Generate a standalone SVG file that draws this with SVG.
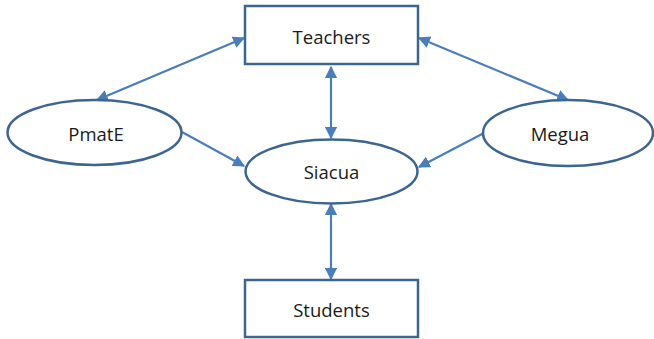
<svg xmlns="http://www.w3.org/2000/svg" width="654" height="339" viewBox="0 0 654 339">
<style>
.node{fill:#fff;stroke:#3c6590;stroke-width:2.5}
.lbl{font-family:"Open Sans","Liberation Sans",sans-serif;font-size:18.5px;fill:#1a1a1a;text-anchor:middle;dominant-baseline:central}
.con{stroke:#4a7ebb;stroke-width:2.2;fill:none}
</style>
<defs>
<marker id="ah" viewBox="0 0 10 10" refX="9" refY="5" markerWidth="5.5" markerHeight="5.5" orient="auto-start-reverse">
<path d="M0,0 L10,5 L0,10 z" fill="#4a7ebb"/>
</marker>
</defs>
<rect width="654" height="339" fill="#fff"/>
<g id="connectors">
<line class="con" x1="97" y1="100" x2="244" y2="38" marker-start="url(#ah)" marker-end="url(#ah)"/>
<line class="con" x1="419" y1="38" x2="568" y2="100" marker-start="url(#ah)" marker-end="url(#ah)"/>
<line class="con" x1="331" y1="67" x2="331" y2="138" marker-start="url(#ah)" marker-end="url(#ah)"/>
<line class="con" x1="182" y1="132" x2="244" y2="166" marker-end="url(#ah)"/>
<line class="con" x1="484" y1="133" x2="419" y2="167" marker-end="url(#ah)"/>
<line class="con" x1="331" y1="204" x2="331" y2="279" marker-start="url(#ah)" marker-end="url(#ah)"/>
</g>
<g id="teachers">
<rect class="node" x="245" y="6" width="173" height="58"/>
<text class="lbl" x="331.5" y="36">Teachers</text>
</g>
<g id="pmate">
<ellipse class="node" cx="94.5" cy="132.5" rx="87" ry="32.5"/>
<text class="lbl" x="96" y="133">PmatE</text>
</g>
<g id="megua">
<ellipse class="node" cx="568" cy="133" rx="85" ry="33"/>
<text class="lbl" x="560" y="133">Megua</text>
</g>
<g id="siacua">
<ellipse class="node" cx="331.5" cy="171.5" rx="86" ry="32"/>
<text class="lbl" x="331.5" y="171">Siacua</text>
</g>
<g id="students">
<rect class="node" x="245" y="280" width="173" height="57"/>
<text class="lbl" x="331.5" y="309">Students</text>
</g>
</svg>
